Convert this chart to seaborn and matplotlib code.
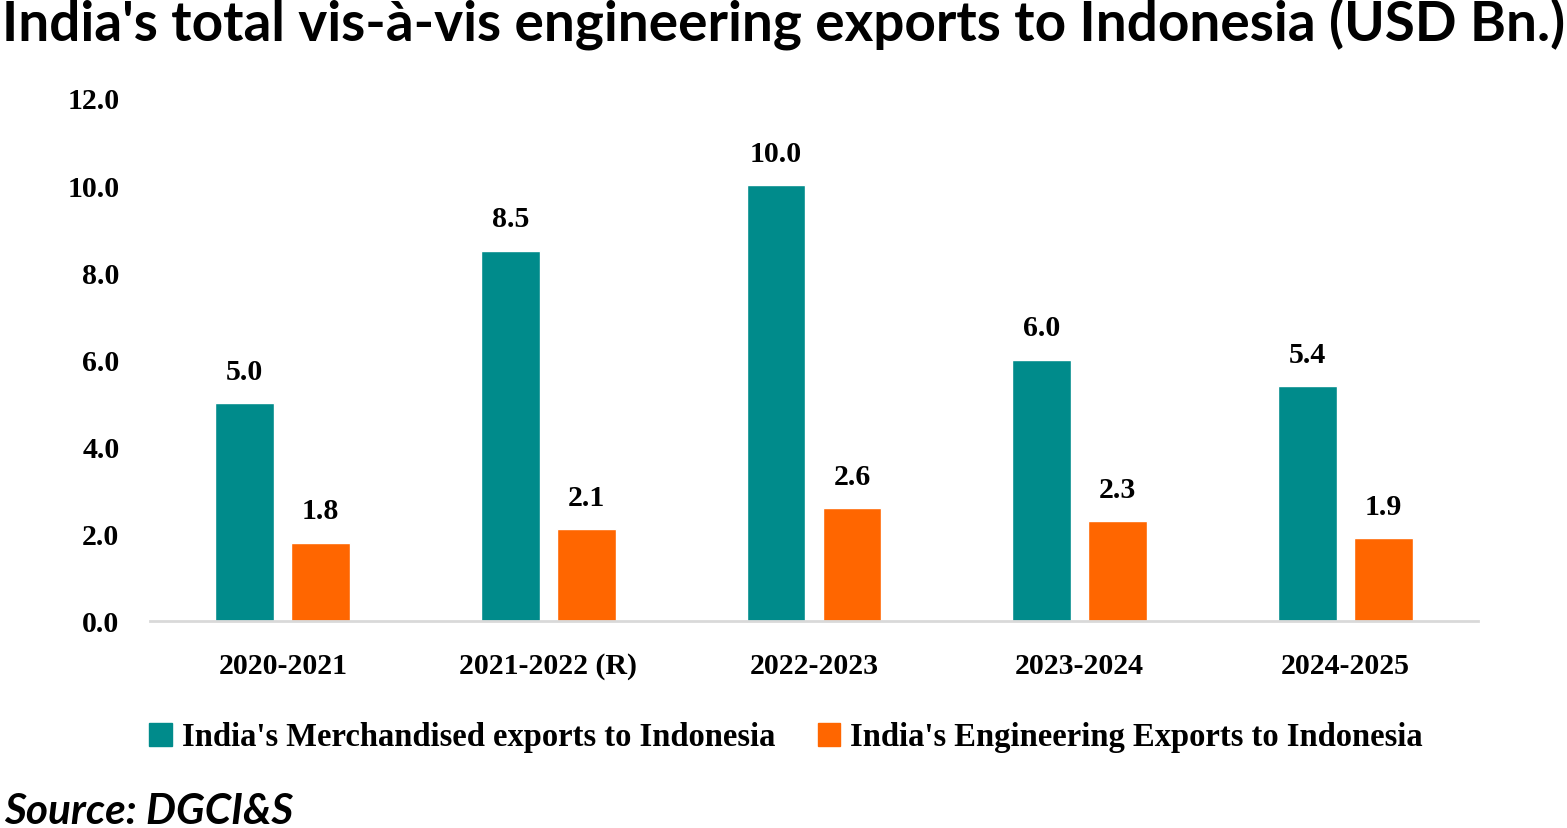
import matplotlib
matplotlib.use("Agg")
import matplotlib.pyplot as plt
import seaborn as sns
import pandas as pd

years = ["2020-2021", "2021-2022 (R)", "2022-2023", "2023-2024", "2024-2025"]
merch = [5.0, 8.5, 10.0, 6.0, 5.4]
eng = [1.8, 2.1, 2.6, 2.3, 1.9]
series = ["India's Merchandised exports to Indonesia", "India's Engineering Exports to Indonesia"]
colors = ["#008B8B", "#FF6600"]

df = pd.DataFrame({
    "year": years * 2,
    "value": merch + eng,
    "series": [series[0]] * len(years) + [series[1]] * len(years),
})

sns.set_theme(style="white")
serif = ["Liberation Serif", "DejaVu Serif"]
plt.rcParams["font.family"] = serif
plt.rcParams["text.color"] = "black"
plt.rcParams["xtick.color"] = "black"
plt.rcParams["ytick.color"] = "black"

FS = 21.5

fig = plt.figure(figsize=(15.67, 8.29), dpi=100)
ax = fig.add_axes([150/1567, 1-622/829, (1478-150)/1567, (622-99)/829])

sns.barplot(data=df, x="year", y="value", hue="series", palette=colors,
            width=0.572, gap=0.225, ax=ax, legend=False, saturation=1)

for cont in ax.containers:
    ax.bar_label(cont, fmt="%.1f", padding=13, fontsize=FS, fontweight="bold",
                 family=serif, color="black")

ax.set_ylim(0, 12)
ax.set_xlim(-0.5, len(years) - 0.5)
ax.set_yticks([0, 2, 4, 6, 8, 10, 12])
ax.set_yticklabels([f"{v:.1f}" for v in [0, 2, 4, 6, 8, 10, 12]])
ax.tick_params(axis="y", length=0, pad=22, labelsize=FS)
ax.tick_params(axis="x", length=0, pad=22, labelsize=FS)
for lab in ax.get_xticklabels() + ax.get_yticklabels():
    lab.set_fontweight("bold")
    lab.set_family(serif)
ax.set_xlabel("")
ax.set_ylabel("")
for s in ["top", "right", "left"]:
    ax.spines[s].set_visible(False)
ax.spines["bottom"].set_color("#D9D9D9")
ax.spines["bottom"].set_linewidth(2)
ax.grid(False)

from matplotlib.patches import Patch
handles = [Patch(color=c) for c in colors]
leg = fig.legend(handles, series, loc="center", bbox_to_anchor=(786/1567, 1-738/829),
                 ncol=2, frameon=False, handlelength=0.7, handleheight=0.7,
                 handletextpad=0.3, columnspacing=1.3,
                 prop={"family": serif, "weight": "bold", "size": 23.5})

fig.text(2/1567, 1-24/829, "India's total vis-à-vis engineering exports to Indonesia (USD Bn.)",
         ha="left", va="center", fontsize=39.5, fontweight="bold", color="black",
         family=["Lato", "DejaVu Sans"])
fig.text(4/1567, 1-812/829, "Source: DGCI&S", ha="left", va="center",
         fontsize=30.5, fontweight="bold", style="italic", color="black",
         family=["Lato", "DejaVu Sans"])

fig.savefig("out.png", dpi=100)
